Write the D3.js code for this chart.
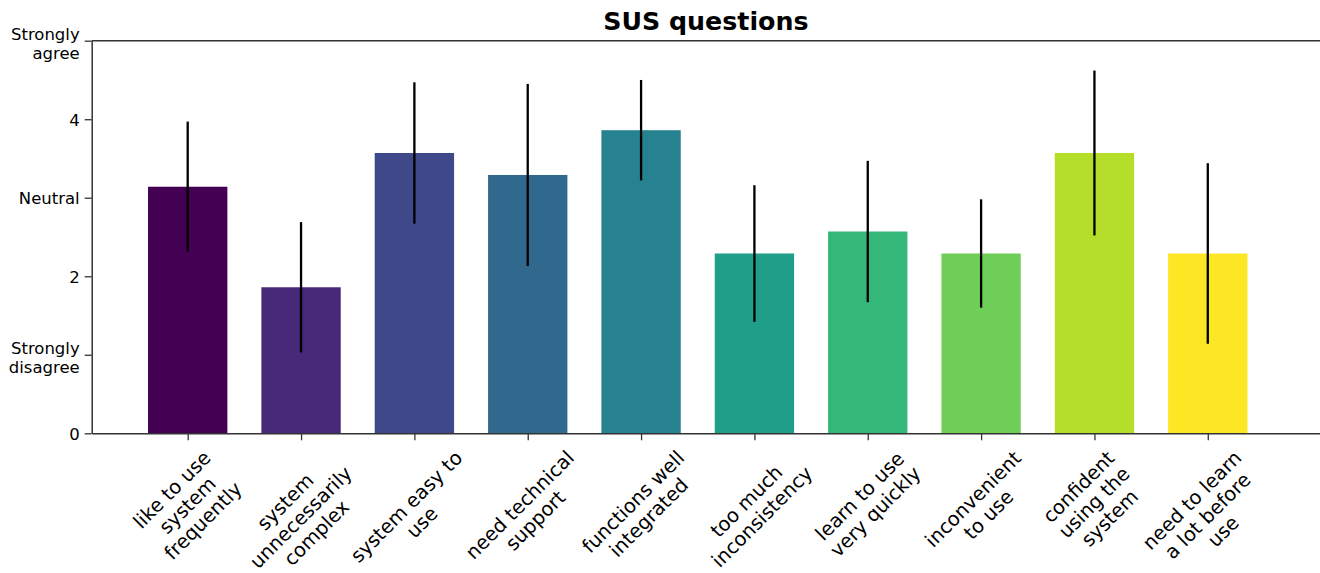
<!DOCTYPE html>
<html>
<head>
<meta charset="utf-8">
<script src="https://cdn.jsdelivr.net/npm/d3@7"></script>
<style>
  html, body { margin: 0; padding: 0; background: #fff; }
  svg { display: block; }
  svg text { font-family: "DejaVu Sans", sans-serif; }
</style>
</head>
<body>
<svg id="chart" width="1320" height="573"></svg>
<script>
// SUS questionnaire: mean response per item with standard deviation
const categories = [
  "like to use\nsystem\nfrequently",
  "system\nunnecessarily\ncomplex",
  "system easy to\nuse",
  "need technical\nsupport",
  "functions well\nintegrated",
  "too much\ninconsistency",
  "learn to use\nvery quickly",
  "inconvenient\nto use",
  "confident\nusing the\nsystem",
  "need to learn\na lot before\nuse"
];
const means = [3.14, 1.86, 3.57, 3.29, 3.86, 2.29, 2.57, 2.29, 3.57, 2.29];
const stds  = [0.83, 0.83, 0.90, 1.16, 0.64, 0.87, 0.90, 0.69, 1.05, 1.15];

const yTickValues = [0, 1, 2, 3, 4, 5];
const yTickLabels = ["0", "Strongly\ndisagree", "2", "Neutral", "4", "Strongly\nagree"];

const FONT = "'DejaVu Sans', sans-serif";
const svg = d3.select("#chart");
const plotLeft = 91.7, plotRight = 1320, plotTop = 40.7, plotBottom = 433.3;

const x = d3.scaleLinear().domain([-0.847, 9.99]).range([plotLeft, plotRight]);
const y = d3.scaleLinear().domain([0, 5]).range([plotBottom, plotTop]);
const colors = d3.quantize(d3.interpolateViridis, categories.length);
const barW = 0.7;

// bars
svg.append("g").selectAll("rect")
  .data(means)
  .join("rect")
  .attr("x", (d, i) => x(i - barW / 2))
  .attr("width", (d, i) => x(i + barW / 2) - x(i - barW / 2))
  .attr("y", d => y(d))
  .attr("height", d => y(0) - y(d))
  .attr("fill", (d, i) => colors[i]);

// error bars (±1 SD)
svg.append("g").selectAll("line")
  .data(means)
  .join("line")
  .attr("x1", (d, i) => x(i))
  .attr("x2", (d, i) => x(i))
  .attr("y1", (d, i) => y(d + stds[i]))
  .attr("y2", (d, i) => y(d - stds[i]))
  .attr("stroke", "#000")
  .attr("stroke-width", 2.3);

const spine = "#333";

// top spine
svg.append("line")
  .attr("x1", plotLeft).attr("x2", plotRight)
  .attr("y1", plotTop).attr("y2", plotTop)
  .attr("stroke", spine).attr("stroke-width", 1.5);

// y axis
const yAxis = svg.append("g")
  .attr("transform", `translate(${plotLeft},0)`)
  .call(d3.axisLeft(y).tickValues(yTickValues).tickSize(7).tickSizeOuter(0).tickFormat(""))
  .attr("font-family", FONT);
yAxis.select(".domain").attr("stroke", spine).attr("stroke-width", 1.5);
yAxis.selectAll(".tick line").attr("stroke", spine).attr("stroke-width", 1.3);

const yLineH = 18.5;
yAxis.selectAll(".tick").each(function(d) {
  const idx = yTickValues.indexOf(d);
  const lines = yTickLabels[idx].split("\n");
  const n = lines.length;
  const shift = n > 1 ? 2.5 : 0;
  const t = d3.select(this).append("text")
    .attr("fill", "#000")
    .attr("font-family", FONT)
    .attr("font-size", 16.5)
    .attr("text-anchor", "end");
  lines.forEach((ln, k) => {
    t.append("tspan")
      .attr("x", -12)
      .attr("y", (k - (n - 1) / 2) * yLineH + shift)
      .attr("dy", "0.36em")
      .text(ln);
  });
});

// x axis
const xAxis = svg.append("g")
  .attr("transform", `translate(0,${plotBottom})`)
  .call(d3.axisBottom(x).tickValues(d3.range(categories.length)).tickSize(7).tickSizeOuter(0).tickFormat(""))
  .attr("font-family", FONT);
xAxis.select(".domain").attr("stroke", spine).attr("stroke-width", 1.5);
xAxis.selectAll(".tick line").attr("stroke", spine).attr("stroke-width", 1.3);

// rotated, multi-line category labels centred under each tick
const xLineH = 22;
const labelTop = plotBottom + 13;
const c = Math.SQRT1_2;
categories.forEach((lab, i) => {
  const lines = lab.split("\n");
  const g = svg.append("g");
  const t = g.append("text")
    .attr("fill", "#000")
    .attr("font-family", FONT)
    .attr("font-size", 19.5)
    .attr("text-anchor", "middle")
    .attr("transform", "rotate(-45)");
  lines.forEach((ln, k) => {
    t.append("tspan").attr("x", 0).attr("y", k * xLineH).text(ln);
  });
  const b = t.node().getBBox();
  const pts = [[b.x, b.y], [b.x + b.width, b.y], [b.x, b.y + b.height], [b.x + b.width, b.y + b.height]]
    .map(([px, py]) => [c * (px + py), c * (py - px)]);
  const minX = d3.min(pts, p => p[0]), maxX = d3.max(pts, p => p[0]);
  const minY = d3.min(pts, p => p[1]);
  g.attr("transform", `translate(${x(i) - (minX + maxX) / 2},${labelTop - minY})`);
});

// title
svg.append("text")
  .attr("x", (plotLeft + plotRight) / 2)
  .attr("y", 30)
  .attr("text-anchor", "middle")
  .attr("font-family", FONT)
  .attr("font-size", 25.3)
  .attr("font-weight", "bold")
  .attr("fill", "#000")
  .text("SUS questions");
</script>
</body>
</html>
